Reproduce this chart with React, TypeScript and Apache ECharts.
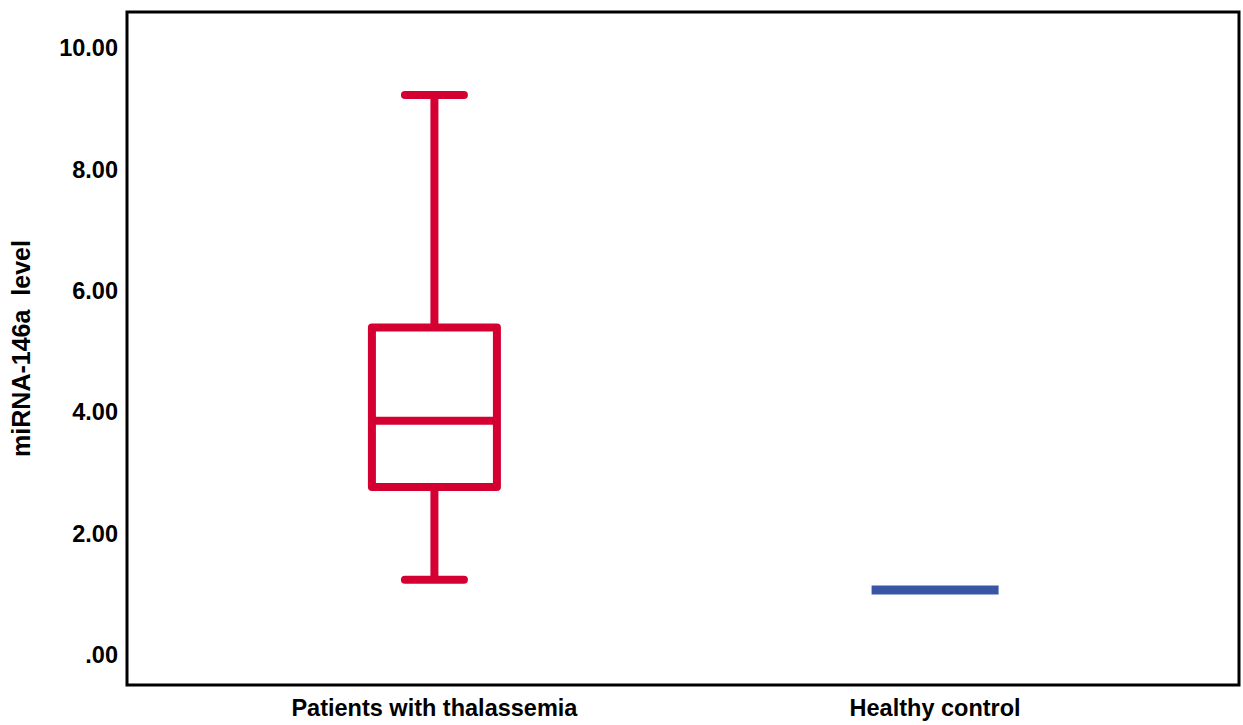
import React, { useEffect, useRef } from "react";
import * as echarts from "echarts";

// Categories and box-plot statistics
const categories = ["Patients with thalassemia", "Healthy control"];
const categoryPositions = [1, 2];
const lowWhisker = [1.24, 1.07];
const q1Values = [2.77, 1.07];
const medianValues = [3.86, 1.07];
const q3Values = [5.4, 1.07];
const highWhisker = [9.23, 1.07];
const seriesColors = ["#D50032", "#3B55A5"];

const yTickValues = [0, 2, 4, 6, 8, 10];
const yTickLabels = [".00", "2.00", "4.00", "6.00", "8.00", "10.00"];

const FONT = "'Liberation Sans', Arial, Helvetica, sans-serif";

export default function App() {
  const ref = useRef<HTMLDivElement>(null);

  useEffect(() => {
    if (!ref.current) return;
    const chart = echarts.init(ref.current, null, { renderer: "svg" });

    const data = categories.map((_, i) => ({
      value: [
        categoryPositions[i],
        lowWhisker[i],
        q1Values[i],
        medianValues[i],
        q3Values[i],
        highWhisker[i],
      ],
      itemStyle: { color: seriesColors[i] },
    }));

    const renderItem = (params: any, api: any) => {
      const x = api.value(0);
      const low = api.value(1);
      const q1 = api.value(2);
      const med = api.value(3);
      const q3 = api.value(4);
      const high = api.value(5);
      const color = api.visual("color");
      const cx = api.coord([x, med])[0];
      const yOf = (v: number) => api.coord([x, v])[1];
      const lw = 8;
      const boxHalf = 62.5;
      const capHalf = 29.5;
      const children: any[] = [];

      if (q1 === q3) {
        children.push({
          type: "line",
          shape: { x1: cx - 63.5, y1: yOf(med), x2: cx + 63.5, y2: yOf(med) },
          style: { stroke: color, lineWidth: 9, lineCap: "butt" },
        });
      } else {
        const yq1 = yOf(q1);
        const yq3 = yOf(q3);
        const yHigh = yOf(high);
        const yLow = yOf(low);
        const yMed = yOf(med);
        children.push({
          type: "line",
          shape: { x1: cx, y1: yq3, x2: cx, y2: yHigh },
          style: { stroke: color, lineWidth: lw },
        });
        children.push({
          type: "line",
          shape: { x1: cx - capHalf, y1: yHigh, x2: cx + capHalf, y2: yHigh },
          style: { stroke: color, lineWidth: lw, lineCap: "round" },
        });
        children.push({
          type: "line",
          shape: { x1: cx, y1: yq1, x2: cx, y2: yLow },
          style: { stroke: color, lineWidth: lw },
        });
        children.push({
          type: "line",
          shape: { x1: cx - capHalf, y1: yLow, x2: cx + capHalf, y2: yLow },
          style: { stroke: color, lineWidth: lw, lineCap: "round" },
        });
        children.push({
          type: "rect",
          shape: { x: cx - boxHalf, y: yq3, width: boxHalf * 2, height: yq1 - yq3 },
          style: { fill: "#ffffff", stroke: color, lineWidth: lw, lineJoin: "round" },
        });
        children.push({
          type: "line",
          shape: { x1: cx - boxHalf, y1: yMed, x2: cx + boxHalf, y2: yMed },
          style: { stroke: color, lineWidth: lw },
        });
      }
      return { type: "group", children };
    };

    chart.setOption({
      animation: false,
      backgroundColor: "#ffffff",
      grid: {
        left: 121,
        right: 4,
        top: 12,
        bottom: 40,
        show: true,
        borderColor: "#000000",
        borderWidth: 3,
        backgroundColor: "transparent",
      },
      xAxis: {
        type: "value",
        min: 0.386,
        max: 2.607,
        axisLine: { show: false },
        axisTick: { show: false },
        splitLine: { show: false },
        axisLabel: {
          customValues: categoryPositions,
          formatter: (v: number) => categories[Math.round(v) - 1] ?? "",
          fontFamily: FONT,
          fontSize: 23.5,
          fontWeight: "bold",
          color: "#000000",
          margin: 11,
        },
      },
      yAxis: {
        type: "value",
        min: -0.494,
        max: 10.6,
        name: "miRNA-146a  level",
        nameLocation: "middle",
        nameGap: 94,
        nameTextStyle: {
          fontFamily: FONT,
          fontSize: 25,
          fontWeight: "bold",
          color: "#000000",
        },
        axisLine: { show: false },
        axisTick: { show: false },
        splitLine: { show: false },
        axisLabel: {
          customValues: yTickValues,
          formatter: (v: number) => {
            const idx = yTickValues.indexOf(Math.round(v));
            return idx >= 0 ? yTickLabels[idx] : "";
          },
          fontFamily: FONT,
          fontSize: 23.5,
          fontWeight: "bold",
          color: "#000000",
          margin: 9,
        },
      },
      series: [
        {
          type: "custom",
          renderItem,
          data,
          encode: { x: 0, y: [1, 2, 3, 4, 5] },
          clip: false,
        },
      ],
    });

    return () => chart.dispose();
  }, []);

  return (
    <div
      ref={ref}
      style={{ position: "fixed", left: 0, top: 0, width: 1243, height: 725 }}
    />
  );
}
